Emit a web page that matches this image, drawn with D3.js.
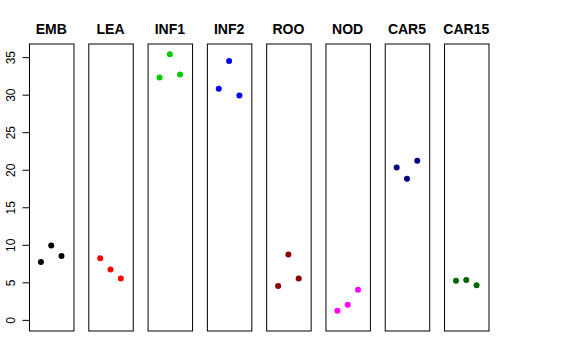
<!DOCTYPE html>
<html>
<head>
<meta charset="utf-8">
<script src="https://cdn.jsdelivr.net/npm/d3@7"></script>
<style>
  body { margin: 0; background: #fff; }
  svg text { font-family: "Liberation Sans", Arial, Helvetica, sans-serif; }
</style>
</head>
<body>
<script>
var w = 576;
var h = 360;

// tissue panels and their colours
var tissues = ["EMB", "LEA", "INF1", "INF2", "ROO", "NOD", "CAR5", "CAR15"];
var colors = ["#000000", "#FF0000", "#00CD00", "#0000FF", "#8B0000", "#FF00FF", "#00008B", "#006400"];

// three replicates per tissue (x position 1, 2, 3)
var reps = [1, 2, 3];
var values = [
  [7.7, 9.9, 8.5],
  [8.2, 6.7, 5.5],
  [32.3, 35.4, 32.7],
  [30.8, 34.5, 29.9],
  [4.5, 8.7, 5.5],
  [1.2, 2.0, 4.0],
  [20.3, 18.8, 21.2],
  [5.2, 5.3, 4.6]
];
var yTicks = [0, 5, 10, 15, 20, 25, 30, 35];

window.onload = function() {

  var svg = d3.select("body")
              .append("svg")
              .attr("width", w)
              .attr("height", h);

  // panel positions
  var xPanel = d3.scaleBand()
                 .domain(tissues)
                 .range([29, 488.5])
                 .paddingInner(0.25)
                 .paddingOuter(0);

  // R style 4% expansion of the ranges
  var yMax = 35.4;
  var yScale = d3.scaleLinear()
                 .domain([-0.04 * yMax, yMax * 1.04])
                 .range([330.5, 43.5]);

  var xInner = d3.scaleLinear()
                 .domain([-0.16, 4.16])
                 .range([0, xPanel.bandwidth()]);

  var panels = svg.selectAll(".panel")
                  .data(tissues)
                  .enter().append("g")
                  .attr("class", "panel")
                  .attr("transform", function(d) { return "translate(" + xPanel(d) + ",0)"; });

  // points
  panels.selectAll("circle")
        .data(function(d, i) {
          return values[i].map(function(v, j) { return {x: reps[j], y: v, c: colors[i]}; });
        })
        .enter()
        .append("circle")
        .attr("cx", function(d) { return xInner(d.x); })
        .attr("cy", function(d) { return yScale(d.y); })
        .attr("r", 3)
        .attr("fill", function(d) { return d.c; });

  // frame round each panel
  panels.append("rect")
        .attr("x", 0.5)
        .attr("y", yScale.range()[1] + 0.5)
        .attr("width", xPanel.bandwidth())
        .attr("height", yScale.range()[0] - yScale.range()[1])
        .attr("fill", "none")
        .attr("stroke", "#000")
        .attr("stroke-width", 1);

  // titles
  panels.append("text")
        .attr("x", xPanel.bandwidth() / 2)
        .attr("y", 34)
        .attr("text-anchor", "middle")
        .style("font-size", "14px")
        .style("font-weight", "bold")
        .text(function(d) { return d; });

  // y axis on the first panel only
  var yAxis = d3.axisLeft(yScale)
                .tickValues(yTicks)
                .tickSize(7)
                .tickSizeOuter(0);

  var axis = svg.append("g")
                .attr("class", "axis")
                .attr("transform", "translate(" + (xPanel(tissues[0]) + 0.5) + ",0)")
                .call(yAxis);

  axis.select(".domain").remove();
  axis.selectAll(".tick line").attr("stroke", "#000");
  axis.append("line")
      .attr("x1", 0).attr("x2", 0)
      .attr("y1", yScale(0)).attr("y2", yScale(35))
      .attr("stroke", "#000");

  axis.selectAll(".tick text")
      .attr("transform", "rotate(-90)")
      .attr("x", 0)
      .attr("y", -15)
      .attr("dy", 0)
      .attr("text-anchor", "middle")
      .attr("fill", "#000")
      .style("font-size", "12px")
      .style("font-family", "'Liberation Sans', Arial, sans-serif");
};
</script>
</body>
</html>
